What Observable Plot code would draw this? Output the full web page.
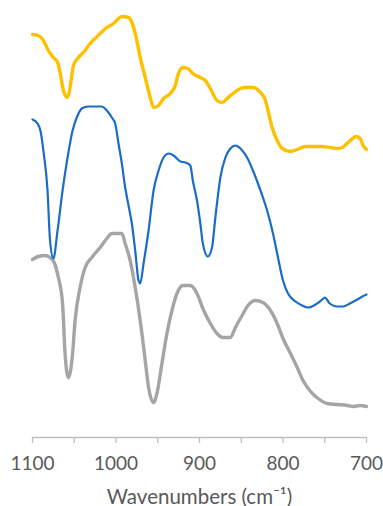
<!DOCTYPE html>
<html>
<head>
<meta charset="utf-8">
<script src="https://cdn.jsdelivr.net/npm/d3@7"></script>
<script src="https://cdn.jsdelivr.net/npm/@observablehq/plot@0.6"></script>
<style>
  html, body { margin: 0; padding: 0; background: #fff; }
  #chart svg { display: block; }
</style>
</head>
<body>
<div id="chart"></div>
<script>
// FTIR spectra, stacked with vertical offsets (arbitrary units)
const goldWn = [1100,1093,1087,1081,1075,1070,1067,1063,1058,1055,1051,1045,1037,1031,1025,1019,1011,1003,997,993,985,981,977,971,965,959,955,949,943,935,929,926,920,914,908,899,893,887,879,873,867,860,851,845,836,827,821,818,813,807,801,791,783,773,764,753,743,735,729,722,712,707,704,700];
const goldAbs = [4.03,4.02,3.97,3.87,3.80,3.75,3.65,3.47,3.40,3.50,3.72,3.80,3.87,3.94,3.99,4.04,4.10,4.14,4.19,4.21,4.20,4.15,4.04,3.80,3.60,3.40,3.30,3.32,3.39,3.44,3.52,3.62,3.70,3.69,3.64,3.60,3.57,3.49,3.37,3.35,3.39,3.44,3.49,3.50,3.50,3.45,3.37,3.27,3.10,2.97,2.89,2.86,2.88,2.91,2.91,2.91,2.90,2.89,2.90,2.95,3.01,2.98,2.92,2.88];

const blueWn = [1100,1094,1090,1087,1082,1079,1075,1070,1064,1058,1052,1046,1041,1033,1023,1017,1011,1005,1001,997,993,989,985,981,977,973,971,967,961,955,949,943,937,931,923,917,911,908,903,899,896,890,885,881,875,869,863,857,851,843,836,830,824,818,812,806,800,794,785,777,770,761,753,750,744,735,728,720,711,705,700];
const blueAbs = [3.18,3.14,3.05,2.87,2.47,1.97,1.79,2.07,2.47,2.80,3.07,3.22,3.29,3.31,3.31,3.31,3.27,3.20,3.14,2.94,2.74,2.50,2.32,2.14,1.87,1.57,1.54,1.74,2.07,2.47,2.67,2.80,2.84,2.82,2.76,2.75,2.72,2.57,2.37,2.14,1.94,1.81,1.90,2.20,2.60,2.80,2.89,2.92,2.89,2.80,2.67,2.54,2.40,2.24,2.04,1.80,1.57,1.44,1.36,1.32,1.30,1.33,1.38,1.40,1.34,1.31,1.31,1.34,1.38,1.41,1.43];

const grayWn = [1100,1093,1085,1079,1074,1069,1064,1061,1057,1052,1049,1043,1037,1029,1019,1011,1005,999,993,989,983,977,971,965,961,955,951,945,939,933,927,920,911,903,896,887,879,872,863,857,849,842,833,824,815,807,800,791,783,776,768,758,747,735,723,716,708,700];
const grayAbs = [1.78,1.81,1.82,1.80,1.75,1.60,1.34,0.84,0.60,0.84,1.17,1.50,1.70,1.80,1.90,1.99,2.04,2.04,2.04,1.94,1.77,1.50,1.17,0.77,0.50,0.35,0.44,0.74,1.04,1.27,1.44,1.52,1.52,1.44,1.29,1.14,1.04,1.00,1.00,1.10,1.22,1.32,1.37,1.35,1.27,1.14,0.99,0.84,0.70,0.57,0.47,0.39,0.34,0.33,0.32,0.31,0.32,0.31];

const xTicks = [1100,1050,1000,950,900,850,800,750,700];

const toRows = (wn, abs) => wn.map((w, i) => ({wn: w, a: abs[i]}));
const gold = toRows(goldWn, goldAbs);
const blue = toRows(blueWn, blueAbs);
const gray = toRows(grayWn, grayAbs);

const font = "Lato, 'Open Sans', sans-serif";

const chart = Plot.plot({
  width: 383,
  height: 506,
  marginTop: 0,
  marginLeft: 32,
  marginRight: 17,
  marginBottom: 69,
  style: {fontFamily: font, fontSize: "19px", color: "#595959", background: "#fff"},
  x: {domain: [1100, 700]},
  y: {domain: [0, 4.37], axis: null},
  marks: [
    Plot.ruleY([0], {stroke: "#bfbfbf", strokeWidth: 1.3}),
    Plot.axisX({
      ticks: xTicks,
      tickSize: 6,
      tickPadding: 13,
      stroke: "#bfbfbf",
      strokeWidth: 1.3,
      tickFormat: d => d % 100 === 0 ? String(d) : "",
      label: null,
      fontSize: 19,
      fill: "#595959"
    }),
    Plot.line(gray, {x: "wn", y: "a", stroke: "#a5a5a5", strokeWidth: 3.4, curve: "monotone-x"}),
    Plot.line(blue, {x: "wn", y: "a", stroke: "#1a6cc6", strokeWidth: 2.2, curve: "monotone-x"}),
    Plot.line(gold, {x: "wn", y: "a", stroke: "#ffc000", strokeWidth: 3.4, curve: "monotone-x"}),
    Plot.text(["Wavenumbers (cm⁻¹)"], {
      frameAnchor: "bottom",
      dy: 66,
      text: d => d,
      fontSize: 20.5,
      fill: "#595959"
    })
  ]
});

document.getElementById("chart").appendChild(chart);
</script>
</body>
</html>
